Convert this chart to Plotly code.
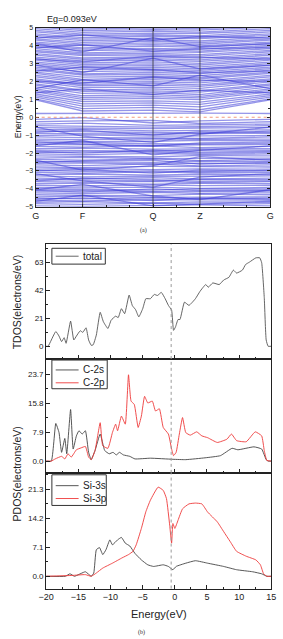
import plotly.graph_objects as go

# ---------------- band structure data ----------------
k_labels = ["G", "F", "Q", "Z", "G"]
k_pos = [0.0, 0.2, 0.5, 0.7, 1.0]
gap_text = "Eg=0.093eV"

# each row: energy (eV) at G, F, Q, Z (path returns to G)
valence_bands = [
    [-0.12, -0.02, -0.32, -0.20], [-0.25, -0.20, -0.18, -0.35], [-0.38, -0.33, -0.45, -0.42],
    [-0.47, -0.50, -0.55, -0.52], [-0.58, -0.62, -0.64, -0.60], [-0.70, -0.66, -0.76, -0.73],
    [-0.78, -0.82, -0.85, -0.88], [-0.90, -0.93, -0.95, -0.92], [-1.02, -0.98, -1.06, -1.04],
    [-1.10, -1.14, -1.15, -1.18], [-1.22, -1.25, -1.20, -1.23], [-1.31, -1.36, -1.34, -1.29],
    [-1.45, -1.41, -1.48, -1.50], [-1.52, -1.55, -1.57, -1.54], [-1.63, -1.67, -1.60, -1.70],
    [-1.75, -1.72, -1.78, -1.77], [-1.84, -1.88, -1.90, -1.82], [-1.97, -1.93, -1.95, -2.00],
    [-2.05, -2.09, -2.02, -2.07], [-2.16, -2.20, -2.22, -2.13], [-2.28, -2.24, -2.31, -2.30],
    [-2.35, -2.39, -2.33, -2.42], [-2.47, -2.50, -2.52, -2.45], [-2.58, -2.55, -2.62, -2.56],
    [-2.66, -2.70, -2.60, -2.72], [-2.78, -2.81, -2.75, -2.76], [-2.90, -2.86, -2.93, -2.88],
    [-2.97, -3.02, -3.00, -3.04], [-3.08, -3.12, -3.05, -3.10], [-3.20, -3.17, -3.24, -3.18],
    [-3.28, -3.33, -3.30, -3.30], [-3.40, -3.44, -3.37, -3.45], [-3.49, -3.52, -3.55, -3.47],
    [-3.60, -3.63, -3.58, -3.65], [-3.71, -3.68, -3.74, -3.70], [-3.80, -3.84, -3.78, -3.82],
    [-3.92, -3.95, -3.90, -3.97], [-4.01, -4.05, -4.07, -4.00], [-4.13, -4.10, -4.16, -4.15],
    [-4.22, -4.26, -4.19, -4.25], [-4.33, -4.37, -4.38, -4.30], [-4.45, -4.41, -4.48, -4.47],
    [-4.52, -4.56, -4.50, -4.55], [-4.64, -4.68, -4.60, -4.62], [-4.75, -4.71, -4.79, -4.73],
    [-4.83, -4.87, -4.80, -4.85], [-4.95, -4.98, -4.92, -4.90], [-5.05, -5.08, -5.10, -5.06],
    [-0.55, -1.05, -1.40, -0.95], [-1.60, -1.30, -2.10, -1.85], [-2.40, -2.95, -2.70, -2.20],
    [-3.15, -3.55, -3.90, -3.35], [-4.05, -3.75, -4.40, -4.60], [-4.70, -4.35, -4.95, -4.85],
    [-0.85, -0.72, -1.00, -0.80], [-1.38, -1.50, -1.62, -1.44], [-1.90, -2.00, -1.84, -1.95],
    [-2.52, -2.44, -2.40, -2.62], [-3.00, -2.92, -3.12, -2.96], [-3.55, -3.40, -3.48, -3.58],
    [-4.08, -4.18, -4.00, -4.10], [-4.58, -4.50, -4.66, -4.52],
]
conduction_bands = [
    [0.21, 0.22, 0.25, 0.23], [0.97, 0.35, 0.40, 0.30], [1.03, 0.48, 0.55, 0.42],
    [1.12, 0.62, 0.68, 0.58], [1.21, 0.75, 0.80, 0.72], [1.30, 0.88, 0.92, 0.85],
    [1.42, 1.00, 1.05, 0.98], [1.50, 1.10, 1.15, 1.08], [1.58, 1.20, 1.26, 1.17],
    [1.70, 1.33, 1.38, 1.27], [1.79, 1.45, 1.47, 1.40], [1.86, 1.52, 1.58, 1.49],
    [1.98, 1.65, 1.68, 1.61], [2.07, 1.76, 1.80, 1.72], [2.15, 1.84, 1.90, 1.81],
    [2.26, 1.95, 1.99, 1.92], [2.34, 2.05, 2.10, 2.02], [2.45, 2.12, 2.20, 2.14],
    [2.52, 2.24, 2.29, 2.22], [2.63, 2.36, 2.40, 2.32], [2.72, 2.42, 2.50, 2.44],
    [2.80, 2.55, 2.60, 2.53], [2.91, 2.66, 2.69, 2.62], [3.00, 2.74, 2.79, 2.71],
    [3.08, 2.85, 2.89, 2.82], [3.19, 2.94, 2.98, 2.92], [3.28, 3.03, 3.09, 3.01],
    [3.36, 3.15, 3.19, 3.12], [3.47, 3.24, 3.27, 3.21], [3.55, 3.32, 3.38, 3.30],
    [3.66, 3.44, 3.49, 3.41], [3.74, 3.52, 3.57, 3.50], [3.83, 3.60, 3.67, 3.62],
    [3.94, 3.72, 3.78, 3.70], [4.02, 3.81, 3.85, 3.79], [4.12, 3.88, 3.97, 3.90],
    [4.20, 4.00, 4.06, 3.99], [4.31, 4.09, 4.15, 4.08], [4.38, 4.18, 4.25, 4.17],
    [4.49, 4.28, 4.34, 4.26], [4.58, 4.36, 4.42, 4.39], [4.66, 4.45, 4.53, 4.47],
    [4.77, 4.56, 4.61, 4.55], [4.85, 4.64, 4.70, 4.68], [4.95, 4.74, 4.81, 4.76],
    [5.05, 4.84, 4.90, 4.87], [5.12, 4.93, 4.99, 4.96], [5.20, 5.02, 5.08, 5.05],
    [1.60, 2.10, 1.75, 2.35], [2.90, 2.50, 3.30, 2.70], [4.10, 3.65, 4.45, 3.95],
    [1.36, 1.58, 1.28, 1.52], [2.00, 1.90, 2.25, 2.08], [2.58, 2.80, 2.66, 2.48],
    [3.25, 3.10, 3.42, 3.35], [3.88, 4.05, 3.70, 3.84], [4.42, 4.60, 4.30, 4.52],
]

# ---------------- DOS data ----------------
fermi_dos = -0.57

total_E = [-20, -19.7, -18.5, -18.0, -17.6, -17.2, -16.9, -16.2, -15.7, -15.3, -14.7, -14.3, -13.8,
           -13.4, -13.0, -12.7, -12.2, -11.6, -11.1, -10.4, -9.9, -9.2, -8.8, -8.3, -7.8, -7.1,
           -6.6, -6.1, -5.6, -5.0, -4.5, -3.8, -3.2, -2.7, -2.1, -1.5, -1.0, -0.5, -0.2, 0.1,
           0.5, 0.8, 1.5, 2.2, 3.2, 3.9, 4.8, 5.2, 5.9, 6.9, 7.6, 8.4, 9.1, 9.6, 10.5, 11.0,
           11.6, 12.6, 13.2, 13.5, 13.9, 14.2, 14.5, 15]
total_D = [0, 0, 11, 7.6, 3.5, 6.4, 2.2, 18.8, 4.7, 7.6, 11.6, 10.4, 13.8,
           4.7, 0.7, 1.0, 8.4, 25.4, 18.3, 13.3, 19.5, 22.5, 21.5, 28.1, 24.4, 38.3,
           30.4, 27.4, 22.0, 28.0, 35.6, 35.6, 38.8, 38.0, 40.3, 35.6, 30.6, 27.0, 11.9, 14.4,
           20.0, 20.0, 33.0, 30.6, 35.6, 41.0, 46.2, 44.2, 47.4, 46.2, 49.6, 51.6, 57.0, 54.8, 57.0, 61.2,
           63.0, 66.2, 66.2, 62.5, 36.5, 4.7, 0, 0]

c2s_E = [-20, -19.2, -18.5, -18.0, -17.6, -17.1, -16.8, -16.2, -15.8, -15.3, -14.9, -14.4, -13.9,
         -13.4, -13.0, -12.4, -11.6, -10.9, -10.2, -9.6, -9.1, -8.6, -8.0, -7.0, -6.2, -3.8,
         -0.3, 1.7, 4.7, 7.1, 8.9, 9.8, 12.3, 13.5, 14.2, 14.5, 15]
c2s_D = [0, 0, 10.3, 7.8, 2.4, 6.2, 2.0, 14.1, 3.3, 6.9, 8.3, 7.4, 8.3,
         2.4, 0.4, 2.9, 7.4, 2.9, 2.0, 2.4, 1.7, 2.4, 1.7, 1.3, 0.6, 0.8,
         0.5, 0.4, 0.9, 1.5, 3.5, 3.1, 3.9, 3.3, 0.4, 0, 0]

c2p_E = [-20, -19.2, -18.6, -17.6, -17.1, -16.6, -16.1, -15.3, -14.6, -13.9, -13.4, -13.0, -12.4,
         -11.6, -11.2, -10.4, -9.7, -9.2, -8.9, -8.3, -7.7, -7.2, -6.8, -6.3, -5.7, -5.2,
         -4.7, -4.2, -3.5, -3.0, -2.4, -1.8, -1.0, -0.5, -0.2, 0.2, 0.7, 1.2, 1.7, 2.4,
         3.4, 4.2, 5.1, 6.6, 8.1, 8.8, 9.6, 11.1, 12.5, 13.5, 13.9, 14.3, 15]
c2p_D = [0, 0, 0.6, 1.3, 0.6, 2.0, 1.1, 3.1, 3.6, 4.0, 1.1, 0.4, 2.9,
         10.5, 4.2, 3.5, 7.8, 10.1, 8.3, 12.3, 10.1, 23.6, 16.4, 15.5, 9.2, 12.3,
         17.7, 15.9, 16.4, 13.7, 14.3, 9.2, 7.4, 3.3, 1.5, 2.4, 7.4, 11.9, 7.8, 7.1,
         8.0, 6.9, 6.4, 5.1, 6.0, 7.4, 5.6, 5.3, 8.0, 6.9, 2.9, 0.2, 0]

si3s_E = [-20, -17.0, -16.3, -15.6, -13.9, -13.0, -12.6, -12.2, -11.7, -11.2, -10.7, -10.1, -9.7,
          -8.9, -8.3, -7.7, -7.0, -6.2, -5.2, -4.2, -3.3, -1.8, -1.0, -0.3, 0.2, 1.7,
          3.2, 5.1, 7.6, 9.6, 12.1, 13.5, 14.3, 15]
si3s_D = [0, 0, 0.6, 0, 1.1, 0, 0.8, 6.5, 7.0, 5.3, 6.5, 8.9, 7.7,
          8.9, 9.5, 8.1, 7.4, 5.6, 4.0, 2.8, 2.4, 2.8, 2.4, 1.6, 2.4, 3.2,
          3.8, 3.2, 2.4, 1.6, 1.1, 0.6, 0, 0]

si3p_E = [-20, -16.0, -13.9, -13.0, -12.2, -11.2, -9.7, -8.2, -7.2, -6.5, -6.0, -5.2, -4.5,
          -3.8, -2.6, -1.8, -1.3, -0.8, -0.5, -0.3, 0.0, 0.5, 1.2, 2.2, 3.2, 4.2,
          5.1, 6.6, 7.6, 8.6, 9.6, 11.1, 12.6, 13.3, 13.8, 14.3, 15]
si3p_D = [0, 0.2, 0.4, 0, 0.8, 2.0, 3.2, 4.5, 5.3, 6.1, 7.7, 11.7, 15.8,
          18.6, 21.8, 21.0, 19.0, 12.5, 8.1, 12.9, 11.7, 13.7, 16.5, 17.7, 17.9, 17.7,
          15.7, 13.3, 10.9, 8.5, 6.1, 4.9, 4.0, 2.8, 0.6, 0, 0]

FONT = "Liberation Sans, Arial, sans-serif"
BLUE = "rgba(60,60,215,0.55)"
RED = "#ee3a3a"
GRAY = "#444444"

fig = go.Figure()

# bands as a single trace with gaps
bx, by = [], []
for row in valence_bands + conduction_bands:
    vals = row + [row[0]]
    bx += k_pos + [None]
    by += vals + [None]
fig.add_trace(go.Scatter(x=bx, y=by, mode="lines", line=dict(color=BLUE, width=1.3),
                         xaxis="x", yaxis="y", showlegend=False, hoverinfo="skip"))

# DOS traces: (name, E, D, color, axis-suffix)
dos_series = [
    ("total", total_E, total_D, "#555555", "2"),
    ("C-2s", c2s_E, c2s_D, GRAY, "3"),
    ("C-2p", c2p_E, c2p_D, RED, "3"),
    ("Si-3s", si3s_E, si3s_D, GRAY, "4"),
    ("Si-3p", si3p_E, si3p_D, RED, "4"),
]
for name, E, D, col, s in dos_series:
    fig.add_trace(go.Scatter(x=E, y=D, name=name, mode="lines",
                             line=dict(color=col, width=0.9, shape="spline", smoothing=0.4),
                             xaxis="x" + s, yaxis="y" + s, showlegend=False))

axis_common = dict(showline=True, linecolor="#222", linewidth=1, showgrid=False, zeroline=False,
                   ticks="inside", tickcolor="#222", tickfont=dict(family=FONT, color="#222"))

band_dom_x = [0.1025, 0.9717]
dos_dom_x = [0.1413, 0.9753]

fig.update_layout(
    width=283, height=639, margin=dict(l=0, r=0, t=0, b=0),
    paper_bgcolor="white", plot_bgcolor="white", showlegend=False,
    xaxis=dict(**axis_common, domain=band_dom_x, anchor="y", range=[0, 1],
               tickmode="array", tickvals=k_pos, ticktext=k_labels, ticklen=3,
               tickfont_size=9, mirror="ticks",
               minor=dict(tickmode="linear", tick0=0, dtick=0.1, ticks="inside", ticklen=2, tickcolor="#222")),
    yaxis=dict(**axis_common, domain=[0.6792, 0.9624], anchor="x", range=[-5, 5], dtick=1, ticklen=3,
               tickfont_size=7, mirror="ticks",
               minor=dict(tickmode="linear", tick0=0, dtick=0.5, ticks="inside", ticklen=2, tickcolor="#222")),
    xaxis2=dict(**axis_common, domain=dos_dom_x, anchor="y2", range=[-20, 15], tick0=0, dtick=5,
                ticklen=4, showticklabels=False, mirror=True,
                minor=dict(tick0=0, dtick=2.5, ticks="inside", ticklen=2, tickcolor="#222")),
    xaxis3=dict(**axis_common, domain=dos_dom_x, anchor="y3", range=[-20, 15], tick0=0, dtick=5,
                ticklen=4, showticklabels=False, mirror=True,
                minor=dict(tick0=0, dtick=2.5, ticks="inside", ticklen=2, tickcolor="#222")),
    xaxis4=dict(**axis_common, domain=dos_dom_x, anchor="y4", range=[-20, 15], tick0=0, dtick=5,
                ticklen=4, tickfont_size=9, mirror=True,
                minor=dict(tick0=0, dtick=2.5, ticks="inside", ticklen=2, tickcolor="#222")),
    yaxis2=dict(**axis_common, domain=[0.4382, 0.6197], anchor="x2", range=[-9.6, 76.3],
                tick0=0, dtick=21, ticklen=4, tickfont_size=8, mirror=True,
                minor=dict(tick0=0, dtick=10.5, ticks="inside", ticklen=2, tickcolor="#222")),
    yaxis3=dict(**axis_common, domain=[0.2582, 0.4382], anchor="x3", range=[-3.2, 27.9],
                tick0=0, dtick=7.9, tickformat=".1f", ticklen=4, tickfont_size=8, mirror=True,
                minor=dict(tick0=0, dtick=3.95, ticks="inside", ticklen=2, tickcolor="#222")),
    yaxis4=dict(**axis_common, domain=[0.0751, 0.2582], anchor="x4", range=[-3.0, 25.3],
                tick0=0, dtick=7.1, tickformat=".1f", ticklen=4, tickfont_size=8, mirror=True,
                minor=dict(tick0=0, dtick=3.55, ticks="inside", ticklen=2, tickcolor="#222")),
)

W, H = 283, 639
def px(x):
    return x / W
def py(y):
    return 1 - y / H

shapes = []
for kp in k_pos[1:-1]:
    shapes.append(dict(type="line", xref="x", yref="y domain", x0=kp, x1=kp, y0=0, y1=1,
                       line=dict(color="#333", width=0.8)))
shapes.append(dict(type="line", xref="x domain", yref="y", x0=0, x1=1, y0=0, y1=0,
                   line=dict(color="#f08060", width=0.8, dash="dot")))
for s in ["2", "3", "4"]:
    shapes.append(dict(type="line", xref="x" + s, yref="y" + s + " domain", x0=fermi_dos, x1=fermi_dos,
                       y0=0, y1=1, line=dict(color="#999", width=1, dash="dot")))

ann = []
# hand-drawn legend boxes: (box top, box bottom, right edge, [(series index, row centre)])
legend_boxes = [
    (247, 263, 102, [(0, 255)]),
    (360, 389, 104, [(1, 370), (2, 383)]),
    (476, 507, 103, [(3, 487), (4, 500)]),
]
for top, bot, right, items in legend_boxes:
    shapes.append(dict(type="rect", xref="paper", yref="paper", x0=px(46), x1=px(right),
                       y0=py(bot), y1=py(top), line=dict(color="#333", width=1), fillcolor="white"))
    for idx, yc in items:
        name, _, _, col, _ = dos_series[idx]
        shapes.append(dict(type="line", xref="paper", yref="paper", x0=px(50), x1=px(74),
                           y0=py(yc), y1=py(yc), line=dict(color=col, width=0.9)))
        ann.append(dict(text=name, x=px(77), y=py(yc), xanchor="left", font=dict(size=10)))
fig.update_layout(shapes=shapes)

ann += [
    dict(text=gap_text, x=px(67), y=py(15), font=dict(size=9)),
    dict(text="Energy(eV)", x=px(10), y=py(114), textangle=-90, font=dict(size=8.5)),
    dict(text="(a)", x=px(142), y=py(229), font=dict(size=6, family="Liberation Serif, serif")),
    dict(text="TDOS(electrons/eV)", x=px(9), y=py(301), textangle=-90, font=dict(size=10.5)),
    dict(text="PDOS(electrons/eV)", x=px(9), y=py(475), textangle=-90, font=dict(size=10.5)),
    dict(text="Energy(eV)", x=px(158), y=py(617), font=dict(size=11)),
    dict(text="(b)", x=px(140), y=py(635), font=dict(size=6, family="Liberation Serif, serif")),
]
for a in ann:
    f = dict(family=FONT, color="#222")
    f.update(a.pop("font"))
    a.setdefault("xanchor", "center")
    fig.add_annotation(**a, xref="paper", yref="paper", showarrow=False, yanchor="middle", font=f)

fig.write_html("out.html", config={"displayModeBar": False})
